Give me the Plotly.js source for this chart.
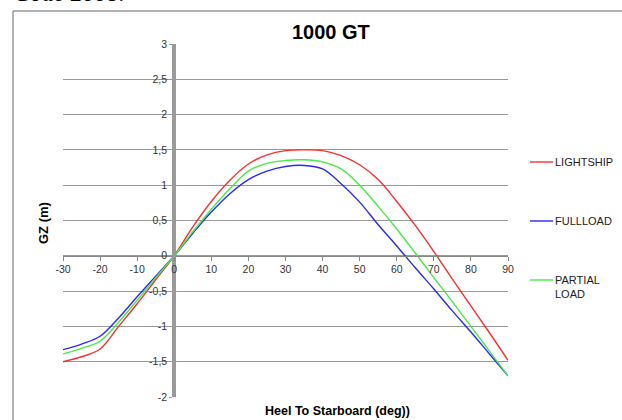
<!DOCTYPE html>
<html>
<head>
<meta charset="utf-8">
<script src="https://cdn.plot.ly/plotly-3.0.1.min.js"></script>
<style>html,body{margin:0;padding:0;background:#fff;}#chart{width:622px;height:420px;}</style>
</head>
<body>
<div id="chart"></div>
<script>
// Heel angle (deg)
const heel = [-30, -25, -20, -15, -10, -5, 0, 5, 10, 15, 20, 25, 30, 35, 40, 45, 50, 55, 60, 65, 70, 75, 80, 85, 90];
// GZ values (m)
const lightship   = [-1.50, -1.43, -1.32, -1.00, -0.68, -0.34, 0, 0.41, 0.77, 1.07, 1.30, 1.43, 1.49, 1.50, 1.49, 1.42, 1.29, 1.08, 0.77, 0.43, 0.06, -0.33, -0.71, -1.09, -1.48];
const fullload    = [-1.33, -1.25, -1.14, -0.88, -0.58, -0.29, 0, 0.32, 0.62, 0.88, 1.08, 1.20, 1.265, 1.28, 1.23, 1.02, 0.76, 0.44, 0.14, -0.17, -0.47, -0.78, -1.08, -1.39, -1.70];
const partialload = [-1.39, -1.31, -1.21, -0.94, -0.63, -0.31, 0, 0.34, 0.66, 0.95, 1.20, 1.31, 1.35, 1.36, 1.33, 1.23, 1.00, 0.70, 0.38, 0.04, -0.31, -0.65, -1.00, -1.35, -1.70];
const seriesNames = ["LIGHTSHIP", "FULLLOAD", "PARTIAL<br>LOAD"];
const seriesColors = ["rgb(255,45,45)", "rgb(40,40,255)", "rgb(70,235,70)"];
const xTicks = [-30, -20, -10, 0, 10, 20, 30, 40, 50, 60, 70, 80, 90];
const yTicks = [-2, -1.5, -1, -0.5, 0, 0.5, 1, 1.5, 2, 2.5, 3];
const yTickText = ["-2", "-1,5", "-1", "-0,5", "0", "0,5", "1", "1,5", "2", "2,5", "3"];

// plot area in pixels: x 63..508, y 44..397
const L = 63, R = 508, T = 44, B = 397;
const px = x => (x - L) / (R - L);
const py = y => (B - y) / (B - T);

const font = "Liberation Sans, Arial, sans-serif";
const ys = [lightship, fullload, partialload];
const traces = ys.map((v, i) => ({
  x: heel, y: v, type: "scatter", mode: "lines",
  name: seriesNames[i], showlegend: false,
  line: {color: seriesColors[i], width: 1.4, shape: "spline", smoothing: 1},
  hoverinfo: "skip"
}));

// manual legend
const legendY = [162, 221, 280];
const shapes = [
  {type: "rect", xref: "paper", yref: "paper", x0: px(13), x1: px(660), y0: py(11), y1: py(460),
   line: {color: "#666", width: 1}, fillcolor: "rgba(0,0,0,0)", layer: "below"}
];
const annotations = [
  {text: "1000 GT", xref: "paper", yref: "paper", x: px(331), y: py(32), showarrow: false,
   font: {family: font, size: 20, color: "#000", weight: "bold"}, xanchor: "center", yanchor: "middle"},
  {text: "GZ (m)", xref: "paper", yref: "paper", x: px(44), y: py(223), showarrow: false, textangle: -90,
   font: {family: font, size: 13, color: "#000", weight: "bold"}, xanchor: "center", yanchor: "middle"},
  {text: "Heel To Starboard (deg))", xref: "paper", yref: "paper", x: px(337), y: py(411), showarrow: false,
   font: {family: font, size: 12.5, color: "#000", weight: "bold"}, xanchor: "center", yanchor: "middle"},
  {text: "<i>Code 2008.</i>", xref: "paper", yref: "paper", x: px(12), y: py(-7), showarrow: false,
   font: {family: "Liberation Serif, Times New Roman, serif", size: 24, color: "#000"}, xanchor: "left", yanchor: "middle"}
];
seriesNames.forEach((n, i) => {
  shapes.push({type: "line", xref: "paper", yref: "paper", x0: px(530), x1: px(553), y0: py(legendY[i]), y1: py(legendY[i]),
    line: {color: seriesColors[i], width: 1.4}});
  annotations.push({text: n, xref: "paper", yref: "paper", x: px(553), y: py(legendY[i]), showarrow: false,
    xanchor: "left", yanchor: i === 2 ? "top" : "middle", yshift: i === 2 ? 8 : 0, align: "left",
    font: {family: font, size: 11, color: "#222"}});
});

const layout = {
  width: 622, height: 420,
  margin: {l: L, r: 622 - R, t: T, b: 420 - B, pad: 0},
  paper_bgcolor: "#fff", plot_bgcolor: "rgba(0,0,0,0)",
  showlegend: false,
  xaxis: {
    range: [-30, 90], anchor: "free", position: 0.4,
    showgrid: false, zeroline: false,
    showline: true, linecolor: "#888", linewidth: 1,
    ticks: "outside", ticklen: 4, tickcolor: "#888", tickwidth: 1,
    tickvals: xTicks, ticktext: xTicks.map(String),
    tickfont: {family: font, size: 10.5, color: "#333"}
  },
  yaxis: {
    range: [-2, 3], anchor: "free", position: 0.25,
    showgrid: true, gridcolor: "#999", gridwidth: 1, zeroline: false,
    showline: true, linecolor: "#999", linewidth: 4,
    ticks: "outside", ticklen: 3, tickcolor: "#999", tickwidth: 1,
    tickvals: yTicks, ticktext: yTickText,
    tickfont: {family: font, size: 10.5, color: "#333"}
  },
  shapes: shapes,
  annotations: annotations
};

Plotly.newPlot("chart", traces, layout, {displayModeBar: false, staticPlot: true});
</script>
</body>
</html>
